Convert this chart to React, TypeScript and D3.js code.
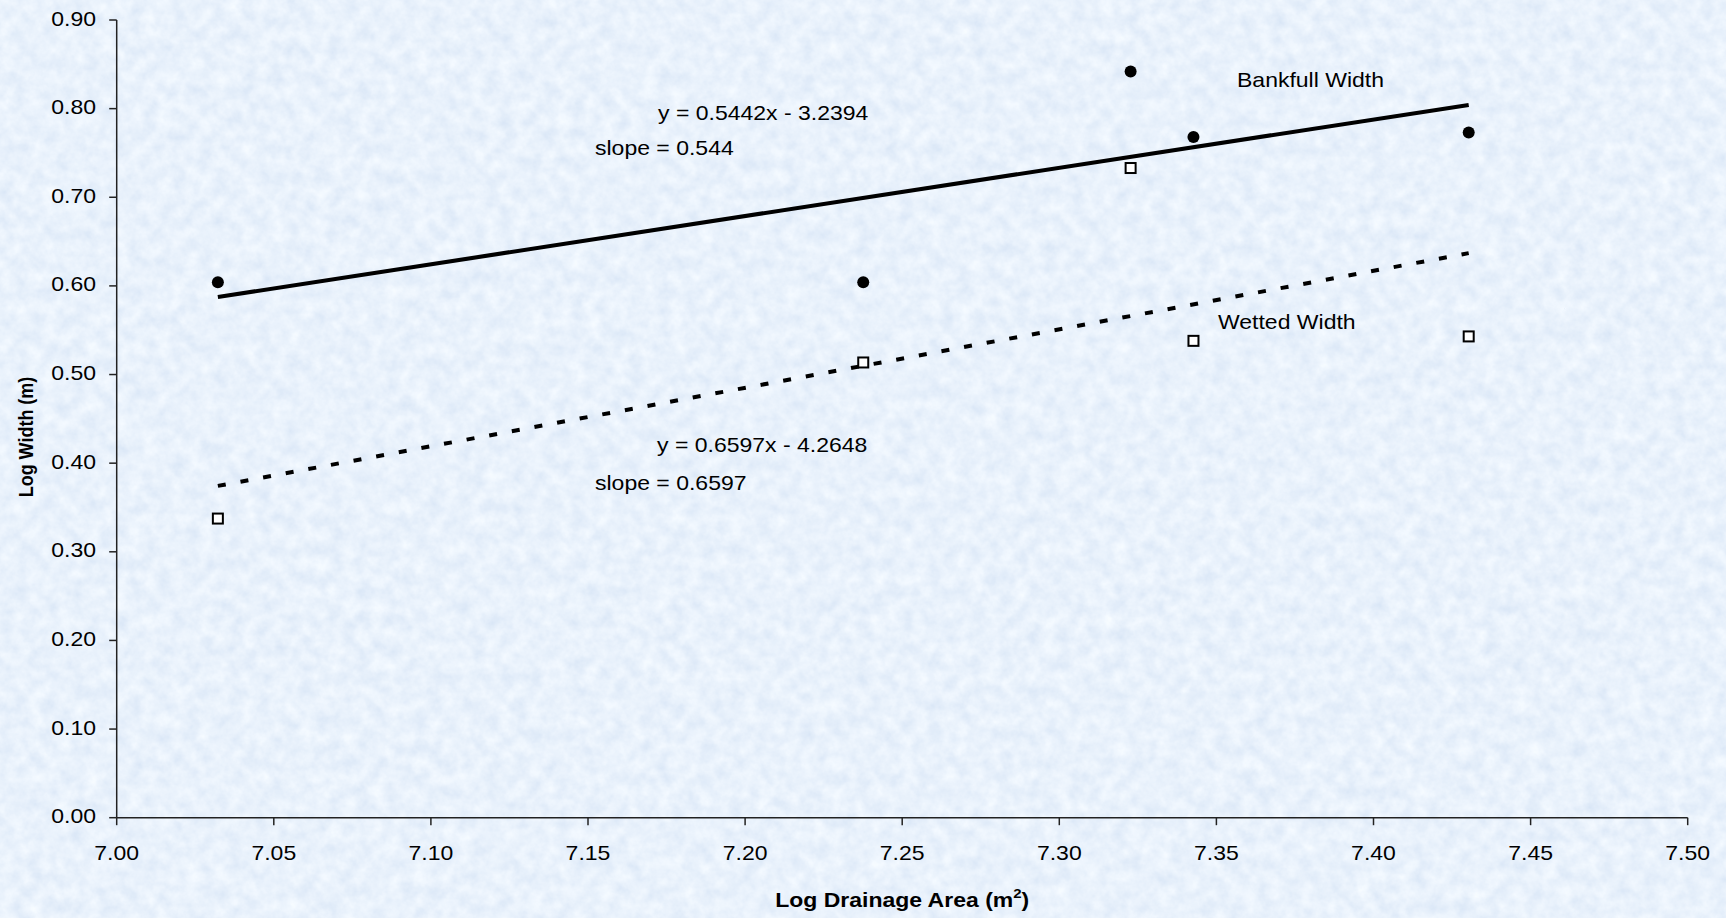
import React from "react";
import * as d3 from "d3";

// ---- data ----
const logArea = [7.0322, 7.2376, 7.3227, 7.3427, 7.4303];
const bankfullWidth = [0.604, 0.604, 0.842, 0.768, 0.773];
const wettedWidth = [0.3375, 0.5136, 0.733, 0.538, 0.543];
const bankfullFit = [0.5442, -3.2394]; // slope, intercept
const wettedFit = [0.6597, -4.2648];
const bankfullSlopeLabel = "0.544";
const wettedSlopeLabel = "0.6597";
const xTicks = [7.0, 7.05, 7.1, 7.15, 7.2, 7.25, 7.3, 7.35, 7.4, 7.45, 7.5];
const yTicks = [0, 0.1, 0.2, 0.3, 0.4, 0.5, 0.6, 0.7, 0.8, 0.9];

const W = 1726;
const H = 918;
const FONT = "'Liberation Sans', Arial, Helvetica, sans-serif";
const SX = 1.15;

function T({ x, y, anchor = "start", size = 20, bold = false, rotate = 0, children }: any) {
  const tr = rotate
    ? `translate(${x},${y}) rotate(${rotate}) scale(1,${SX})`
    : `translate(${x},${y}) scale(${SX},1)`;
  return (
    <text
      transform={tr}
      textAnchor={anchor}
      fontFamily={FONT}
      fontSize={size}
      fontWeight={bold ? "bold" : "normal"}
      fill="#000"
    >
      {children}
    </text>
  );
}

export default function App() {
  const x = d3.scaleLinear().domain([7.0, 7.5]).range([116.7, 1687.7]);
  const y = d3.scaleLinear().domain([0, 0.9]).range([817.7, 20]);
  const xMin = d3.min(logArea) as number;
  const xMax = d3.max(logArea) as number;
  const line = d3
    .line<number>()
    .x((d) => x(d[0]))
    .y((d) => y(d[1]));
  const fitPts = (f: number[]) => [
    [xMin, f[0] * xMin + f[1]],
    [xMax, f[0] * xMax + f[1]],
  ];
  const eq = (f: number[]) =>
    `y = ${f[0]}x ${f[1] < 0 ? "-" : "+"} ${Math.abs(f[1])}`;

  return (
    <div style={{ position: "fixed", left: 0, top: 0, width: W, height: H }}>
      <svg width={W} height={H} style={{ display: "block" }}>
        <defs>
          <filter id="tex" x="0" y="0" width="100%" height="100%">
            <feTurbulence type="fractalNoise" baseFrequency="0.07" numOctaves="4" seed="7" />
            <feColorMatrix
              type="matrix"
              values="0.26 0 0 0 0.685  0.20 0 0 0 0.785  0.10 0 0 0 0.92  0 0 0 0 1"
            />
          </filter>
        </defs>
        <rect x={0} y={0} width={W} height={H} fill="#d2e3f5" />
        <rect x={0} y={0} width={W} height={H} filter="url(#tex)" />

        {/* axes */}
        <line x1={x(7.0)} x2={x(7.0)} y1={y(0.9)} y2={y(0)} stroke="#222" strokeWidth={1.5} />
        <line x1={x(7.0)} x2={x(7.5)} y1={y(0)} y2={y(0)} stroke="#222" strokeWidth={1.5} />
        {yTicks.map((t) => (
          <g key={"y" + t}>
            <line x1={x(7.0) - 7.5} x2={x(7.0)} y1={y(t)} y2={y(t)} stroke="#222" strokeWidth={1.5} />
            <T x={96} y={y(t) + 5.5} anchor="end">
              {t.toFixed(2)}
            </T>
          </g>
        ))}
        {xTicks.map((t) => (
          <g key={"x" + t}>
            <line x1={x(t)} x2={x(t)} y1={y(0)} y2={y(0) + 7.5} stroke="#222" strokeWidth={1.5} />
            <T x={x(t)} y={860} anchor="middle">
              {t.toFixed(2)}
            </T>
          </g>
        ))}

        {/* axis titles */}
        <T x={(x(7.0) + x(7.5)) / 2} y={907} anchor="middle" bold>
          Log Drainage Area (m
          <tspan fontSize={13} dy={-9}>
            2
          </tspan>
          <tspan dy={9}>)</tspan>
        </T>
        <T x={33} y={437} anchor="middle" bold size={18} rotate={-90}>
          Log Width (m)
        </T>

        {/* trend lines */}
        <path d={line(fitPts(bankfullFit) as any) || ""} fill="none" stroke="#000" strokeWidth={4} />
        <path
          d={line(fitPts(wettedFit) as any) || ""}
          fill="none"
          stroke="#000"
          strokeWidth={4}
          strokeDasharray="8 15"
        />

        {/* points */}
        {logArea.map((a, i) => (
          <circle key={"b" + i} cx={x(a)} cy={y(bankfullWidth[i])} r={6} fill="#000" />
        ))}
        {logArea.map((a, i) => (
          <rect
            key={"w" + i}
            x={x(a) - 5}
            y={y(wettedWidth[i]) - 5}
            width={10}
            height={10}
            fill="#fff"
            stroke="#000"
            strokeWidth={2}
          />
        ))}

        {/* annotations */}
        <T x={658} y={120}>{eq(bankfullFit)}</T>
        <T x={595} y={155}>{`slope = ${bankfullSlopeLabel}`}</T>
        <T x={1237} y={87}>Bankfull Width</T>
        <T x={1218} y={329}>Wetted Width</T>
        <T x={657} y={452}>{eq(wettedFit)}</T>
        <T x={595} y={490}>{`slope = ${wettedSlopeLabel}`}</T>
      </svg>
    </div>
  );
}
